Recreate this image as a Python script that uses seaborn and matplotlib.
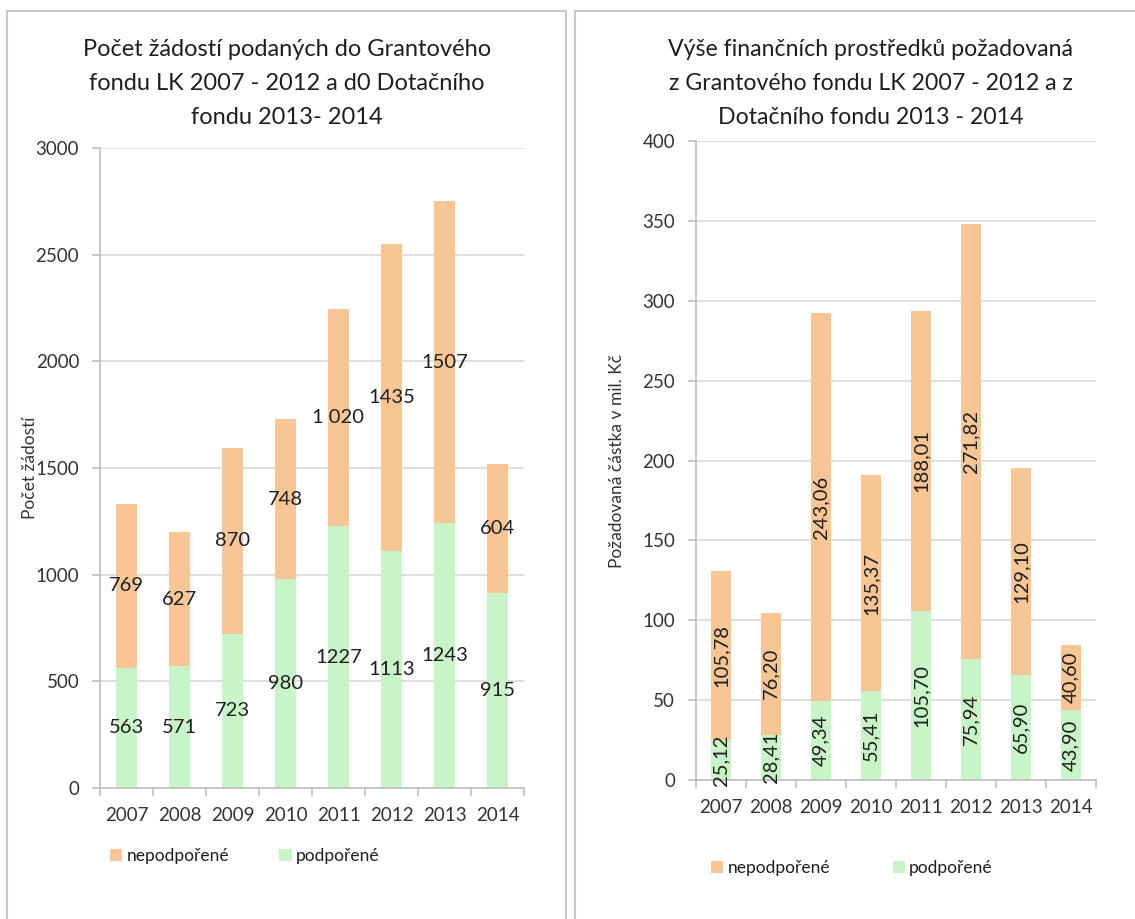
import matplotlib
matplotlib.use("Agg")
import matplotlib.pyplot as plt
import seaborn as sns
import pandas as pd
from matplotlib.patches import Patch, Rectangle

# ---------------- data ----------------
years = ["2007", "2008", "2009", "2010", "2011", "2012", "2013", "2014"]

# left chart: number of applications
count_supported = [563, 571, 723, 980, 1227, 1113, 1243, 915]
count_unsupported = [769, 627, 870, 748, 1020, 1435, 1507, 604]
count_unsupported_labels = ["769", "627", "870", "748", "1 020", "1435", "1507", "604"]

# right chart: requested amount (mil. Kč)
amount_supported = [25.12, 28.41, 49.34, 55.41, 105.70, 75.94, 65.90, 43.90]
amount_unsupported = [105.78, 76.20, 243.06, 135.37, 188.01, 271.82, 129.10, 40.60]

left_title = ["Počet žádostí podaných do Grantového",
              "fondu LK 2007 - 2012 a d0 Dotačního",
              "fondu 2013- 2014"]
right_title = ["Výše finančních prostředků požadovaná",
               "z Grantového fondu LK 2007 - 2012 a z",
               "Dotačního fondu 2013 - 2014"]
legend_labels = ["nepodpořené", "podpořené"]

# ---------------- style ----------------
sns.set_theme(style="white")
plt.rcParams["font.family"] = ["Lato", "DejaVu Sans"]

ORANGE = "#F8C694"
GREEN = "#C8F5C8"
GRID = "#D9D9D9"
AXIS = "#BFBFBF"
TXT = "#1F1F1F"
TICK = "#333333"

W, H = 1135, 919
fig = plt.figure(figsize=(W / 100, H / 100), dpi=100)
fig.patch.set_facecolor("white")


def px_axes(x0, y0, x1, y1):
    """axes from pixel box (top-left origin)"""
    return fig.add_axes([x0 / W, 1 - y1 / H, (x1 - x0) / W, (y1 - y0) / H])


# panel frames
fig.add_artist(Rectangle((7 / W, -0.05), (566 - 7) / W, 1.05 - 11 / H,
                         transform=fig.transFigure, fill=False,
                         edgecolor="#C8C8C8", linewidth=1.5))
fig.add_artist(Rectangle((575 / W, -0.05), 1.0, 1.05 - 11 / H,
                         transform=fig.transFigure, fill=False,
                         edgecolor="#C8C8C8", linewidth=1.5))


def draw(ax, sup, unsup, unsup_labels, ymax, ystep, rotate, fmt):
    total = [a + b for a, b in zip(sup, unsup)]
    df = pd.DataFrame({"year": years, "total": total, "sup": sup})
    sns.barplot(data=df, x="year", y="total", color=ORANGE, saturation=1,
                width=0.41, linewidth=0, ax=ax, zorder=2)
    sns.barplot(data=df, x="year", y="sup", color=GREEN, saturation=1,
                width=0.41, linewidth=0, ax=ax, zorder=2)
    ax.set_xlim(-0.5, len(years) - 0.5)
    ax.set_ylim(0, ymax)
    ax.set_yticks(range(0, ymax + 1, ystep))
    ax.yaxis.grid(True, color=GRID, linewidth=1.2, zorder=0)
    ax.set_axisbelow(True)
    for s in ["top", "right"]:
        ax.spines[s].set_visible(False)
    for s in ["left", "bottom"]:
        ax.spines[s].set_color(AXIS)
        ax.spines[s].set_linewidth(1.2)
    ax.tick_params(axis="y", which="major", length=6, color=AXIS, width=1.2,
                   labelsize=13.5, labelcolor=TICK, pad=9, left=True)
    ax.tick_params(axis="x", which="major", length=0, labelsize=13.5,
                   labelcolor=TICK, pad=14)
    ax.set_xticks([i - 0.5 for i in range(len(years) + 1)], minor=True)
    ax.tick_params(axis="x", which="minor", length=6, color=AXIS, width=1.2,
                   bottom=True)
    ax.set_xlabel("")
    for i, (s, u) in enumerate(zip(sup, unsup)):
        lab_s = fmt(s)
        lab_u = unsup_labels[i] if unsup_labels else fmt(u)
        kw = dict(ha="center", va="center", color=TXT, fontsize=14.5,
                  rotation=90 if rotate else 0, zorder=3)
        ax.text(i, s / 2, lab_s, **kw)
        ax.text(i, s + u / 2, lab_u, **kw)


# left chart
axL = px_axes(100, 148, 524, 788)
draw(axL, count_supported, count_unsupported, count_unsupported_labels,
     3000, 500, False, lambda v: str(v))
axL.set_ylabel("Počet žádostí", fontsize=12.5, color=TICK)
axL.yaxis.set_label_coords(-0.146, 0.5)

# right chart
axR = px_axes(696, 141, 1096, 780)
draw(axR, amount_supported, amount_unsupported, None,
     400, 50, True, lambda v: f"{v:.2f}".replace(".", ","))
axR.set_ylabel("Požadovaná částka v mil. Kč", fontsize=12.5, color=TICK)
axR.yaxis.set_label_coords(-0.1775, 0.5)

# titles
for k, line in enumerate(left_title):
    fig.text(287 / W, 1 - (50 + 34 * k) / H, line, ha="center", va="center",
             fontsize=17, color=TXT)
for k, line in enumerate(right_title):
    fig.text(871 / W, 1 - (49 + 34 * k) / H, line, ha="center", va="center",
             fontsize=16.7, color=TXT)

# legends
handles = [Patch(facecolor=ORANGE, edgecolor="none"),
           Patch(facecolor=GREEN, edgecolor="none")]
fig.legend(handles, legend_labels, loc="center left", ncol=2, frameon=False,
           bbox_to_anchor=(110 / W, 1 - 856 / H), fontsize=12.5,
           handlelength=0.7, handleheight=0.7, handletextpad=0.25,
           columnspacing=2.9, borderpad=0, borderaxespad=0, labelcolor=TXT)
fig.legend(handles, legend_labels, loc="center left", ncol=2, frameon=False,
           bbox_to_anchor=(711 / W, 1 - 868 / H), fontsize=12.5,
           handlelength=0.7, handleheight=0.7, handletextpad=0.25,
           columnspacing=3.6, borderpad=0, borderaxespad=0, labelcolor=TXT)

fig.savefig("out.png", dpi=100, facecolor="white")
